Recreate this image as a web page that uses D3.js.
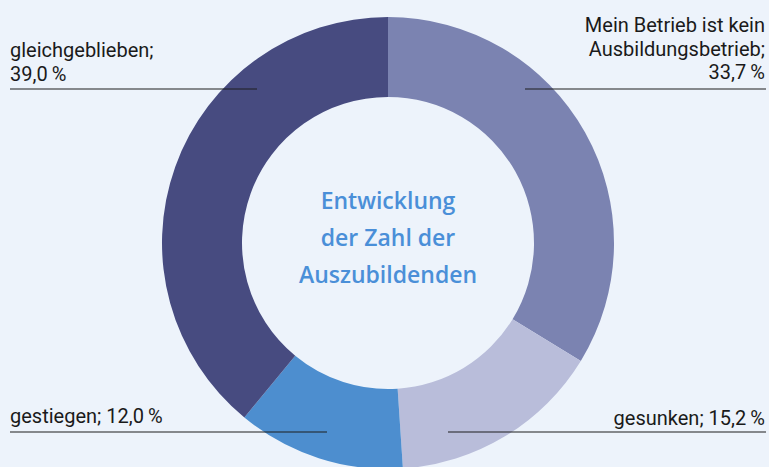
<!DOCTYPE html>
<html>
<head>
<meta charset="utf-8">
<script src="https://cdn.jsdelivr.net/npm/d3@7/dist/d3.min.js"></script>
<style>
  html, body { margin: 0; padding: 0; background: #edf3fb; }
  svg { display: block; }
  .lbl { font-family: Roboto, sans-serif; font-size: 20px; fill: #1a1a1a; }
  .title { font-family: "Open Sans", sans-serif; font-size: 23px; font-weight: 600; fill: #4a8fd8; }
</style>
</head>
<body>
<svg id="chart" width="769" height="467"></svg>
<script>
// Werte in Prozent, im Uhrzeigersinn ab 12 Uhr
const categories = ['Mein Betrieb ist kein Ausbildungsbetrieb', 'gesunken', 'gestiegen', 'gleichgeblieben'];
const values = [33.7, 15.2, 12.0, 39.0];
const labelLines = [
  ['Mein Betrieb ist kein', 'Ausbildungsbetrieb;', '33,7\u2009%'],
  ['gesunken; 15,2\u2009%'],
  ['gestiegen; 12,0\u2009%'],
  ['gleichgeblieben;', '39,0\u2009%']
];
const titleLines = ['Entwicklung', 'der Zahl der', 'Auszubildenden'];
const colors = ['#7b83b1', '#b9bdda', '#4d8ecf', '#474b80'];

const width = 769, height = 467;
const cx = 388, cy = 243, rOuter = 226, rInner = 146;

// Platzierung der Beschriftungen: Textanker + horizontale Linie
const labelLayout = [
  { x: 765, anchor: 'end', y: 32, lineY: 89, x1: 525, x2: 766 },
  { x: 765, anchor: 'end', y: 425, lineY: 432, x1: 448, x2: 766 },
  { x: 10, anchor: 'start', y: 423, lineY: 432, x1: 10, x2: 327 },
  { x: 10, anchor: 'start', y: 57, lineY: 89, x1: 10, x2: 257 }
];

const svg = d3.select('#chart');

const pie = d3.pie().sort(null).value((d) => d.value);
const arc = d3.arc().innerRadius(rInner).outerRadius(rOuter);
const data = categories.map((c, i) => ({ name: c, value: values[i], color: colors[i], lines: labelLines[i], layout: labelLayout[i] }));

const g = svg.append('g').attr('transform', `translate(${cx},${cy})`);
g.selectAll('path')
  .data(pie(data))
  .join('path')
  .attr('d', arc)
  .attr('fill', (d) => d.data.color);

// Linien liegen über dem Ring
svg.selectAll('line.leader')
  .data(data)
  .join('line')
  .attr('class', 'leader')
  .attr('x1', (d) => d.layout.x1)
  .attr('x2', (d) => d.layout.x2)
  .attr('y1', (d) => d.layout.lineY)
  .attr('y2', (d) => d.layout.lineY)
  .attr('stroke', '#1e1e1e')
  .attr('stroke-width', 1.2);

const labels = svg.selectAll('text.lbl')
  .data(data)
  .join('text')
  .attr('class', 'lbl')
  .attr('text-anchor', (d) => d.layout.anchor);

labels.selectAll('tspan')
  .data((d) => d.lines.map((t, i) => ({ t, i, l: d.layout })))
  .join('tspan')
  .attr('x', (d) => d.l.x)
  .attr('y', (d) => d.l.y + d.i * 23.5)
  .text((d) => d.t);

svg.append('text')
  .attr('class', 'title')
  .attr('text-anchor', 'middle')
  .selectAll('tspan')
  .data(titleLines)
  .join('tspan')
  .attr('x', cx)
  .attr('y', (d, i) => 209 + i * 37)
  .text((d) => d);
</script>
</body>
</html>
